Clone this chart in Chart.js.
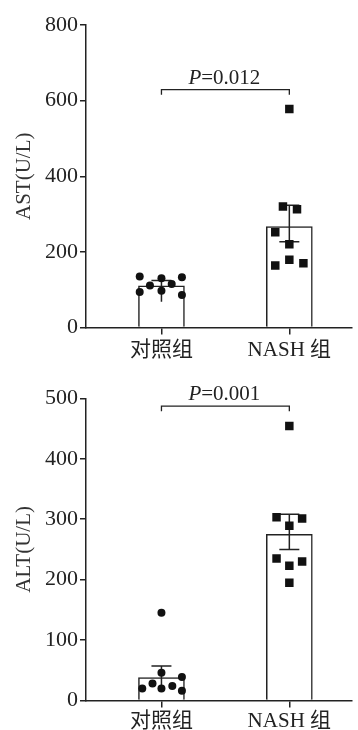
<!DOCTYPE html>
<html>
<head>
<meta charset="utf-8">
<script src="https://cdn.jsdelivr.net/npm/chart.js@4"></script>
<style>
  html, body { margin: 0; padding: 0; background: #fff; }
  #wrap { position: relative; width: 358px; height: 730px; }
  #astChart { position: absolute; left: 0; top: 0; }
  #altChart { position: absolute; left: 0; top: 360px; }
</style>
</head>
<body>
<div id="wrap">
  <canvas id="astChart" width="358" height="360"></canvas>
  <canvas id="altChart" width="358" height="370"></canvas>
</div>
<script>
// groups
const groups = ['对照组', 'NASH 组'];

// AST panel
const astTicks = [0, 200, 400, 600, 800];
const astMean = [110, 267];
const astErrHigh = [124, 323];
const astErrLow = [68, 227];
const astLowCap = [false, true];
const astCtrl = [135, 130, 133, 111, 115, 94, 97, 86];
const astCtrlJitter = [-0.17, 0, 0.16, -0.09, 0.08, -0.17, 0, 0.16];
const astNash = [578, 320, 313, 252, 220, 179, 164, 170];
const astNashJitter = [0, -0.05, 0.06, -0.11, 0, 0, -0.11, 0.11];
const astP = '0.012';
const astBracket = 629;

// ALT panel
const altTicks = [0, 100, 200, 300, 400, 500];
const altMean = [38, 275];
const altErrHigh = [57, 308];
const altErrLow = [19, 250];
const altLowCap = [false, true];
const altCtrl = [145, 46, 39, 28, 24, 20, 20, 16];
const altCtrlJitter = [0, 0, 0.16, -0.07, 0.085, -0.15, 0, 0.16];
const altNash = [454, 303, 301, 289, 235, 230, 223, 195];
const altNashJitter = [0, -0.1, 0.1, 0, -0.1, 0.1, 0, 0];
const altP = '0.001';
const altBracket = 487;

const FONT = '"Liberation Serif", "Noto Sans CJK SC", serif';
const INK = '#222';

// 误差线 + 显著性标注
const annotPlugin = {
  id: 'annot',
  afterDatasetDraw(chart, args, opts) {
    if (chart.data.datasets[args.index].type !== 'bar') return;
    const ctx = chart.ctx;
    const xs = chart.scales.x, ys = chart.scales.y;
    ctx.save();
    ctx.strokeStyle = INK;
    ctx.lineWidth = 1.5;
    opts.mean.forEach((m, i) => {
      const px = xs.getPixelForValue(i + 1);
      const hi = ys.getPixelForValue(opts.high[i]);
      const lo = ys.getPixelForValue(opts.low[i]);
      ctx.beginPath();
      ctx.moveTo(px, lo);
      ctx.lineTo(px, hi);
      ctx.moveTo(px - 10, hi);
      ctx.lineTo(px + 10, hi);
      if (opts.lowCap[i]) {
        ctx.moveTo(px - 10, lo);
        ctx.lineTo(px + 10, lo);
      }
      ctx.stroke();
    });
    ctx.restore();
  },
  afterDraw(chart, args, opts) {
    const ctx = chart.ctx;
    const xs = chart.scales.x, ys = chart.scales.y;
    const x1 = xs.getPixelForValue(1), x2 = xs.getPixelForValue(2);
    const by = ys.getPixelForValue(opts.bracket);
    ctx.save();
    ctx.strokeStyle = INK;
    ctx.lineWidth = 1.3;
    ctx.beginPath();
    ctx.moveTo(x1, by + 5);
    ctx.lineTo(x1, by);
    ctx.lineTo(x2, by);
    ctx.lineTo(x2, by + 5);
    ctx.stroke();

    ctx.fillStyle = INK;
    ctx.textBaseline = 'alphabetic';
    ctx.textAlign = 'left';
    const italic = 'italic 21px ' + FONT;
    const normal = '21px ' + FONT;
    ctx.font = italic;
    const wP = ctx.measureText('P').width;
    ctx.font = normal;
    const rest = '=' + opts.p;
    const wR = ctx.measureText(rest).width;
    const cx = (x1 + x2) / 2 - 1;
    const start = cx - (wP + wR) / 2;
    const ty = by - 6;
    ctx.font = italic;
    ctx.fillText('P', start, ty);
    ctx.font = normal;
    ctx.fillText(rest, start + wP, ty);
    ctx.restore();
  }
};

function points(vals, jitter, center) {
  return vals.map((v, i) => ({ x: center + jitter[i], y: v }));
}

function makePanel(id, cfg) {
  const ctx = document.getElementById(id).getContext('2d');
  const tickVals = cfg.ticks;
  return new Chart(ctx, {
    type: 'bar',
    data: {
      datasets: [
        {
          type: 'bar',
          data: cfg.mean.map((m, i) => ({ x: i + 1, y: m })),
          backgroundColor: '#fff',
          borderColor: INK,
          borderWidth: 1.5,
          barThickness: 46,
          order: 2
        },
        {
          type: 'scatter',
          data: points(cfg.ctrl, cfg.ctrlJitter, 1),
          pointStyle: 'circle',
          radius: 4,
          backgroundColor: '#111',
          borderWidth: 0,
          order: 1
        },
        {
          type: 'scatter',
          data: points(cfg.nash, cfg.nashJitter, 2),
          pointStyle: 'rect',
          radius: 6,
          backgroundColor: '#111',
          borderWidth: 0,
          order: 1
        }
      ]
    },
    options: {
      responsive: false,
      animation: false,
      events: [],
      layout: { padding: { top: cfg.padTop, right: 5, left: 0, bottom: 0 } },
      plugins: {
        legend: { display: false },
        tooltip: { enabled: false },
        annot: {
          mean: cfg.mean, high: cfg.high, low: cfg.low, lowCap: cfg.lowCap,
          bracket: cfg.bracket, p: cfg.p
        }
      },
      scales: {
        x: {
          type: 'linear',
          min: 0.41,
          max: 2.49,
          offset: false,
          bounds: 'data',
          afterBuildTicks: s => { s.ticks = [{ value: 1 }, { value: 2 }]; },
          afterFit: s => { s.height = cfg.xHeight; },
          ticks: {
            callback: v => groups[v - 1],
            font: { family: FONT, size: 21 },
            color: INK,
            padding: cfg.xPad,
            maxRotation: 0,
            autoSkip: false
          },
          grid: { offset: false, drawOnChartArea: false, drawTicks: true, tickLength: 7, color: INK, lineWidth: 1.5 },
          border: { display: true, color: INK, width: 1.5 }
        },
        y: {
          min: tickVals[0],
          max: tickVals[tickVals.length - 1],
          afterBuildTicks: s => { s.ticks = tickVals.map(v => ({ value: v })); },
          afterFit: s => { s.width = 86; },
          ticks: {
            font: { family: FONT, size: 22 },
            color: INK,
            padding: 2
          },
          grid: { drawOnChartArea: false, drawTicks: true, tickLength: 6, color: INK, lineWidth: 1.5 },
          border: { display: true, color: INK, width: 1.5 },
          title: {
            display: true,
            text: cfg.title,
            font: { family: FONT, size: 21 },
            color: '#333',
            padding: { top: 12, bottom: 0 }
          }
        }
      }
    },
    plugins: [annotPlugin]
  });
}

makePanel('astChart', {
  ticks: astTicks, mean: astMean, high: astErrHigh, low: astErrLow, lowCap: astLowCap,
  ctrl: astCtrl, ctrlJitter: astCtrlJitter, nash: astNash, nashJitter: astNashJitter,
  p: astP, bracket: astBracket, title: 'AST(U/L)',
  padTop: 25, xHeight: 32.5, xPad: 3
});

makePanel('altChart', {
  ticks: altTicks, mean: altMean, high: altErrHigh, low: altErrLow, lowCap: altLowCap,
  ctrl: altCtrl, ctrlJitter: altCtrlJitter, nash: altNash, nashJitter: altNashJitter,
  p: altP, bracket: altBracket, title: 'ALT(U/L)',
  padTop: 38.3, xHeight: 29.5, xPad: 1
});
</script>
</body>
</html>
